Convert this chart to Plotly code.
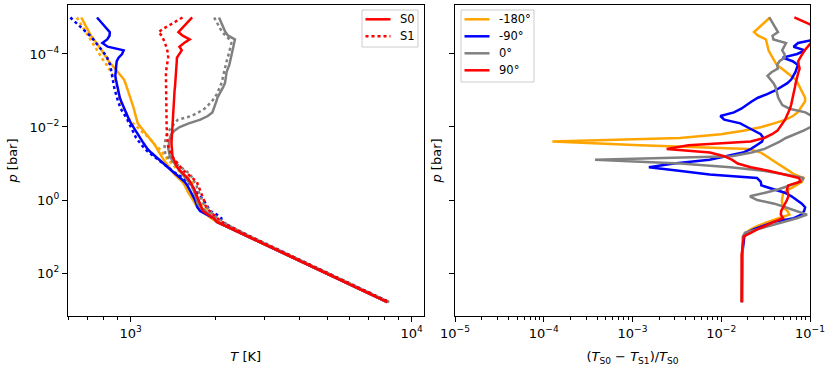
import plotly.graph_objects as go

W, H = 831, 369

# pressure levels [bar], shared by every profile (top of atmosphere first)
P_BAR = [
    1.0e-5, 1.26e-5, 1.58e-5, 2.0e-5, 2.51e-5, 3.16e-5, 3.98e-5, 5.01e-5, 6.31e-5, 7.94e-5,
    1.0e-4, 1.26e-4, 1.58e-4, 2.0e-4, 2.51e-4, 3.16e-4, 3.98e-4, 5.01e-4, 6.31e-4, 7.94e-4,
    1.0e-3, 1.26e-3, 1.58e-3, 2.0e-3, 2.51e-3, 3.16e-3, 3.98e-3, 5.01e-3, 6.31e-3, 7.94e-3,
    0.01, 0.0126, 0.0158, 0.02, 0.0251, 0.0316, 0.0398, 0.0501, 0.0631, 0.0794,
    0.1, 0.126, 0.158, 0.2, 0.251, 0.316, 0.398, 0.501, 0.631, 0.794,
    1.0, 1.26, 1.58, 2.0, 2.51, 3.16, 3.98, 5.01, 6.31, 7.94,
    10.0, 31.6, 100.0, 316.0, 631.0,
]

# temperature profiles [K], S0 (solid) and S1 (dotted)
T_S0_ORANGE = [
    667, 677, 688, 698, 709, 723, 740, 757, 774, 788,
    804, 818, 836, 858, 880, 902, 924, 947, 958, 968,
    980, 988, 997, 1007, 1017, 1027, 1034, 1041, 1048, 1060,
    1085, 1112, 1141, 1168, 1195, 1221, 1242, 1262, 1282, 1310,
    1340, 1370, 1399, 1431, 1480, 1525, 1557, 1575, 1603, 1636,
    1670, 1695, 1727, 1793, 1861, 1932, 2028, 2161, 2303, 2453,
    2614, 3589, 4929, 6768, 8186,
]
T_S1_ORANGE = [
    643, 655, 668, 680, 693, 704, 716, 732, 748, 761,
    775, 787, 803, 822, 838, 853, 867, 882, 888, 894,
    901, 904, 909, 918, 933, 947, 959, 974, 992, 1019,
    1054, 1092, 1130, 1164, 1195, 1222, 1267, 1297, 1323, 1358,
    1398, 1438, 1479, 1527, 1604, 1649, 1665, 1666, 1683, 1716,
    1750, 1777, 1813, 1893, 1970, 2018, 2095, 2217, 2354, 2500,
    2661, 3650, 5013, 6883, 8325,
]
T_S0_BLUE = [
    759, 780, 800, 821, 843, 841, 825, 793, 828, 944,
    932, 906, 892, 889, 887, 884, 882, 886, 891, 896,
    902, 907, 915, 926, 937, 949, 961, 973, 987, 1003,
    1021, 1038, 1056, 1078, 1102, 1124, 1148, 1182, 1221, 1262,
    1305, 1349, 1400, 1454, 1508, 1556, 1590, 1618, 1643, 1669,
    1694, 1711, 1727, 1766, 1874, 1972, 2028, 2161, 2303, 2453,
    2614, 3589, 4929, 6768, 8186,
]
T_S1_BLUE = [
    610, 630, 652, 674, 697, 717, 736, 755, 773, 791,
    809, 825, 835, 845, 850, 854, 857, 861, 867, 873,
    879, 885, 893, 902, 912, 921, 940, 958, 974, 987,
    1001, 1014, 1026, 1046, 1070, 1096, 1123, 1161, 1207, 1253,
    1301, 1349, 1405, 1465, 1546, 1599, 1635, 1680, 1728, 1772,
    1816, 1849, 1879, 1918, 2024, 2102, 2108, 2226, 2357, 2500,
    2662, 3650, 5013, 6883, 8325,
]
T_S0_GRAY = [
    2062, 2089, 2117, 2144, 2173, 2223, 2350, 2335, 2320, 2305,
    2291, 2276, 2263, 2244, 2217, 2193, 2185, 2176, 2165, 2135,
    2102, 2060, 2036, 2018, 2000, 1982, 1953, 1881, 1771, 1610,
    1494, 1431, 1395, 1380, 1370, 1366, 1362, 1369, 1379, 1403,
    1431, 1460, 1494, 1530, 1571, 1612, 1647, 1669, 1692, 1705,
    1719, 1731, 1776, 1840, 1907, 1986, 2028, 2161, 2303, 2453,
    2614, 3589, 4929, 6768, 8186,
]
T_S1_GRAY = [
    1982, 2013, 2045, 2077, 2115, 2180, 2245, 2282, 2269, 2254,
    2234, 2212, 2194, 2175, 2160, 2148, 2137, 2127, 2104, 2080,
    2058, 2025, 1989, 1944, 1887, 1830, 1743, 1643, 1472, 1428,
    1397, 1369, 1343, 1333, 1323, 1320, 1322, 1325, 1349, 1379,
    1448, 1516, 1573, 1630, 1660, 1688, 1715, 1731, 1748, 1770,
    1792, 1817, 1864, 1910, 1972, 2036, 2131, 2239, 2363, 2498,
    2660, 3650, 5013, 6883, 8325,
]
T_S0_RED = [
    1655, 1608, 1564, 1520, 1479, 1531, 1622, 1549, 1491, 1520,
    1492, 1461, 1459, 1457, 1454, 1452, 1449, 1446, 1442, 1438,
    1433, 1430, 1427, 1426, 1424, 1422, 1421, 1419, 1417, 1412,
    1407, 1403, 1400, 1399, 1398, 1398, 1403, 1406, 1409, 1426,
    1445, 1463, 1501, 1547, 1594, 1627, 1661, 1684, 1702, 1723,
    1746, 1768, 1779, 1808, 1881, 1976, 2028, 2161, 2303, 2453,
    2614, 3589, 4929, 6768, 8186,
]
T_S1_RED = [
    1529, 1460, 1383, 1312, 1255, 1291, 1310, 1325, 1338, 1349,
    1360, 1359, 1352, 1346, 1341, 1335, 1335, 1335, 1335, 1335,
    1335, 1335, 1335, 1335, 1335, 1335, 1335, 1335, 1339, 1341,
    1343, 1345, 1347, 1350, 1353, 1356, 1367, 1385, 1404, 1436,
    1468, 1505, 1547, 1608, 1663, 1718, 1739, 1759, 1784, 1808,
    1822, 1832, 1859, 1906, 1972, 2049, 2107, 2228, 2363, 2506,
    2661, 3650, 5013, 6883, 8325,
]

# relative difference (T_S0 - T_S1)/T_S0, magnitude
R_ORANGE = [
    0.0354, 0.0319, 0.0288, 0.0259, 0.0234, 0.0260, 0.0319, 0.0326, 0.0333, 0.0341,
    0.0359, 0.0379, 0.0399, 0.0422, 0.0480, 0.0547, 0.0622, 0.0690, 0.0727, 0.0766,
    0.0805, 0.0847, 0.0881, 0.0879, 0.0826, 0.0778, 0.0725, 0.0641, 0.0531, 0.0393,
    0.0286, 0.0177, 0.0099, 0.00343, 0.000125, 0.00122, 0.0204, 0.0279, 0.0319, 0.0367,
    0.0430, 0.0499, 0.0574, 0.0668, 0.0843, 0.0815, 0.0695, 0.0580, 0.0499, 0.0491,
    0.0483, 0.0485, 0.0498, 0.0556, 0.0586, 0.0444, 0.0332, 0.0261, 0.0217, 0.0188,
    0.0179, 0.0171, 0.0171, 0.0170, 0.0169,
]
R_BLUE = [
    0.196, 0.19, 0.185, 0.18, 0.17, 0.147, 0.115, 0.0734, 0.0653, 0.0876,
    0.0718, 0.0491, 0.0638, 0.0731, 0.0713, 0.0684, 0.0648, 0.0614, 0.0556, 0.0476,
    0.0406, 0.0329, 0.0259, 0.0220, 0.0190, 0.0168, 0.0139, 0.00977, 0.0108, 0.0164,
    0.0195, 0.0233, 0.0279, 0.0298, 0.0288, 0.0250, 0.0216, 0.0176, 0.0117, 0.00738,
    0.00292, 0.00153, 0.00332, 0.00738, 0.0253, 0.0279, 0.0283, 0.0383, 0.0520, 0.0619,
    0.0720, 0.0809, 0.0881, 0.0859, 0.0802, 0.0657, 0.0393, 0.0303, 0.0235, 0.0191,
    0.0182, 0.0172, 0.0171, 0.0171, 0.0171,
]
R_GRAY = [
    0.0348, 0.0368, 0.0390, 0.0413, 0.0436, 0.0378, 0.0387, 0.0537, 0.0508, 0.0486,
    0.0515, 0.0519, 0.0453, 0.0427, 0.0434, 0.0368, 0.0332, 0.0359, 0.0388, 0.0408,
    0.0418, 0.0428, 0.0439, 0.0462, 0.0488, 0.0588, 0.0887, 0.1047, 0.114, 0.108,
    0.1016, 0.0845, 0.0670, 0.0535, 0.0456, 0.0378, 0.0308, 0.0220, 0.0131, 0.000378,
    0.00343, 0.0127, 0.0299, 0.0534, 0.0851, 0.0780, 0.0594, 0.0453, 0.0313, 0.0210,
    0.0254, 0.0397, 0.0527, 0.0700, 0.0927, 0.0710, 0.0508, 0.0362, 0.0258, 0.0185,
    0.0175, 0.0173, 0.0172, 0.0172, 0.0172,
]
R_RED = [
    0.0666, 0.0815, 0.102, 0.14, 0.15, 0.15, 0.13, 0.102, 0.0939, 0.0873,
    0.0820, 0.0777, 0.0736, 0.0746, 0.0764, 0.0740, 0.0718, 0.0701, 0.0689, 0.0678,
    0.0666, 0.0652, 0.0638, 0.0625, 0.0612, 0.0594, 0.0569, 0.0546, 0.0524, 0.0491,
    0.0459, 0.0430, 0.0373, 0.0306, 0.0215, 0.00426, 0.00243, 0.00745, 0.0108, 0.0133,
    0.0153, 0.0215, 0.0340, 0.0507, 0.0752, 0.0777, 0.0568, 0.0551, 0.0561, 0.0571,
    0.0550, 0.0524, 0.0499, 0.0474, 0.0469, 0.0497, 0.0392, 0.0310, 0.0258, 0.0215,
    0.0179, 0.0170, 0.0170, 0.0170, 0.0170,
]

LONGITUDES = ["-180°", "-90°", "0°", "90°"]
COLORS = ["orange", "blue", "gray", "red"]
T_S0 = [T_S0_ORANGE, T_S0_BLUE, T_S0_GRAY, T_S0_RED]
T_S1 = [T_S1_ORANGE, T_S1_BLUE, T_S1_GRAY, T_S1_RED]
R_DIFF = [R_ORANGE, R_BLUE, R_GRAY, R_RED]
RUN_LABELS = ["S0", "S1"]

T_TICKS = [1e3, 1e4]
T_TICKTEXT = ["10<sup>3</sup>", "10<sup>4</sup>"]
T_MINOR = [600, 700, 800, 900, 2000, 3000, 4000, 5000, 6000, 7000, 8000, 9000]
P_TICKS = [1e-4, 1e-2, 1.0, 1e2]
P_TICKTEXT = ["10<sup>\u22124</sup>", "10<sup>\u22122</sup>", "10<sup>0</sup>", "10<sup>2</sup>"]
R_TICKS = [1e-5, 1e-4, 1e-3, 1e-2, 1e-1]
R_TICKTEXT = ["10<sup>\u22125</sup>", "10<sup>\u22124</sup>", "10<sup>\u22123</sup>",
              "10<sup>\u22122</sup>", "10<sup>\u22121</sup>"]
R_MINOR = [m * 10.0 ** k for k in range(-5, -1) for m in range(2, 10)]

LW = 2.5
DOT = "3px,3px"
FONT = "DejaVu Sans, Arial, sans-serif"

fig = go.Figure()

for color, t0, t1 in zip(COLORS, T_S0, T_S1):
    fig.add_scatter(x=t0, y=P_BAR, mode="lines", xaxis="x", yaxis="y",
                    line=dict(color=color, width=LW), showlegend=False)
    fig.add_scatter(x=t1, y=P_BAR, mode="lines", xaxis="x", yaxis="y",
                    line=dict(color=color, width=LW, dash=DOT), showlegend=False)

for name, color, r in zip(LONGITUDES, COLORS, R_DIFF):
    fig.add_scatter(x=r, y=P_BAR, mode="lines", xaxis="x2", yaxis="y2", name=name,
                    line=dict(color=color, width=LW), showlegend=False)


def px_x(px):
    return px / W


def px_y(py):
    return 1 - py / H


def legend_box(x0, x1, y0, y1, entries):
    """matplotlib-style legend drawn in page pixels: framed box, line sample, label."""
    fig.add_shape(type="rect", xref="paper", yref="paper", layer="above",
                  x0=px_x(x0), x1=px_x(x1), y0=px_y(y0), y1=px_y(y1),
                  fillcolor="rgba(255,255,255,0.8)", line=dict(color="#cccccc", width=1))
    for i, (label, color, dash) in enumerate(entries):
        yc = y0 + 9.3 + 17 * i
        fig.add_shape(type="line", xref="paper", yref="paper", layer="above",
                      x0=px_x(x0 + 3.5), x1=px_x(x0 + 28.5), y0=px_y(yc), y1=px_y(yc),
                      line=dict(color=color, width=LW, dash=dash))
        fig.add_annotation(text=label, xref="paper", yref="paper", showarrow=False,
                           x=px_x(x0 + 35.5), y=px_y(yc), xanchor="left", yanchor="middle",
                           font=dict(size=11.5, color="black"))


legend_box(362, 418, 10, 47, [(RUN_LABELS[0], "red", "solid"), (RUN_LABELS[1], "red", DOT)])
legend_box(461, 534, 10, 82, [(n, c, "solid") for n, c in zip(LONGITUDES, COLORS)])

axis_common = dict(
    type="log", showline=True, mirror=True, linecolor="black", linewidth=1,
    ticks="outside", ticklen=5, tickwidth=1, tickcolor="black",
    showgrid=False, zeroline=False, automargin=False,
    tickfont=dict(size=13, color="black"),
)
minor_common = dict(ticks="outside", ticklen=2.5, tickwidth=0.8, tickcolor="black", showgrid=False)
y_dom = [px_y(316), px_y(5)]

fig.update_layout(
    width=W, height=H,
    margin=dict(l=0, r=0, t=0, b=0),
    paper_bgcolor="white", plot_bgcolor="white",
    font=dict(family=FONT, size=13, color="black"),
    showlegend=False,
    xaxis=dict(axis_common, domain=[px_x(68), px_x(423.5)], anchor="y",
               range=[2.777, 4.042], tickvals=T_TICKS, ticktext=T_TICKTEXT,
               minor=dict(minor_common, tickvals=T_MINOR),
               title=dict(text="<i>T</i> [K]", standoff=12, font=dict(size=13))),
    yaxis=dict(axis_common, domain=y_dom, anchor="x",
               range=[3.178, -5.342], tickvals=P_TICKS, ticktext=P_TICKTEXT,
               title=dict(text="<i>p</i> [bar]", standoff=8, font=dict(size=13))),
    xaxis2=dict(axis_common, domain=[px_x(455), px_x(810)], anchor="y2",
                range=[-5, -1], tickvals=R_TICKS, ticktext=R_TICKTEXT,
                minor=dict(minor_common, tickvals=R_MINOR),
                title=dict(text="(<i>T</i><sub>S0</sub> \u2212 <i>T</i><sub>S1</sub>)/<i>T</i><sub>S0</sub>",
                           standoff=12, font=dict(size=13))),
    yaxis2=dict(axis_common, domain=y_dom, anchor="x2",
                range=[3.178, -5.342], tickvals=P_TICKS, showticklabels=False,
                title=dict(text="<i>p</i> [bar]", standoff=4, font=dict(size=13))),
)

# drop the browser's default body margin so the figure sits at the page origin
fig.write_html("out.html", config={"displayModeBar": False},
               post_script="document.body.style.margin = '0px';")
